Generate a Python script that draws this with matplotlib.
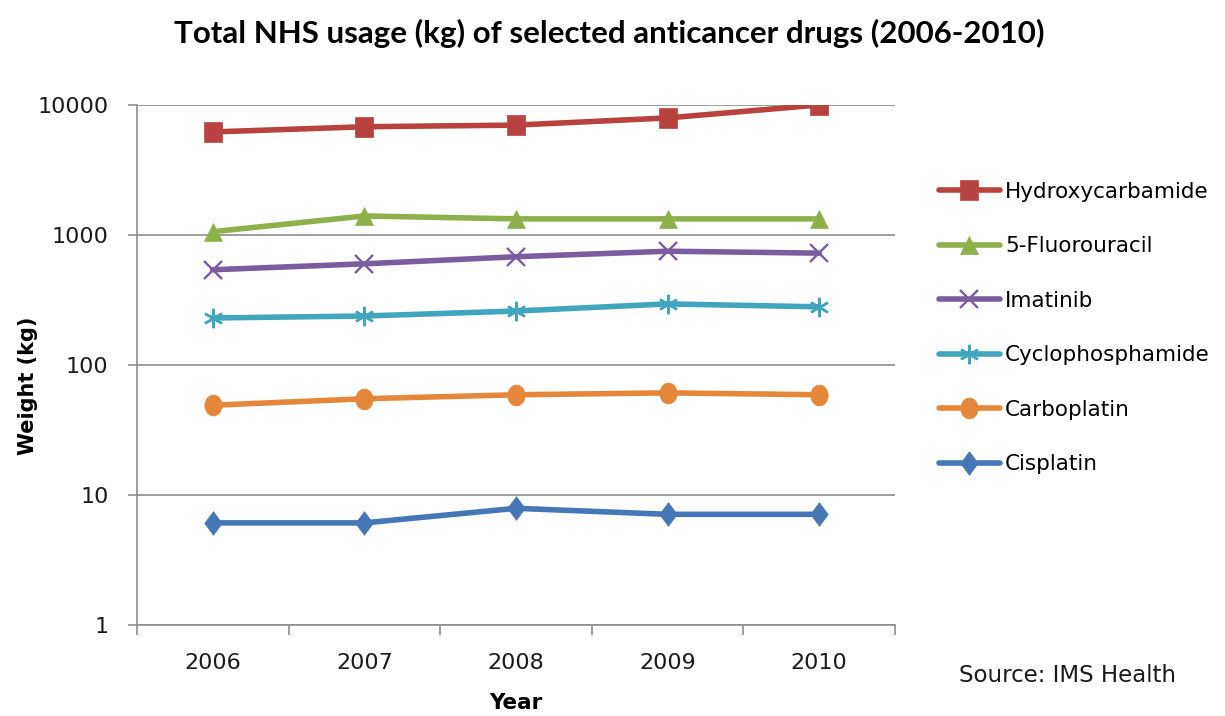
import matplotlib
matplotlib.use("Agg")
import matplotlib.pyplot as plt
from matplotlib.path import Path
from matplotlib.transforms import Affine2D
from matplotlib.ticker import FixedLocator, NullLocator

# values (kg, log scale)
years = ["2006", "2007", "2008", "2009", "2010"]
drugs = ["Hydroxycarbamide", "5-Fluorouracil", "Imatinib",
         "Cyclophosphamide", "Carboplatin", "Cisplatin"]
hydroxycarbamide = [6200, 6800, 7000, 7950, 10000]
fluorouracil = [1060, 1400, 1330, 1330, 1330]
imatinib = [540, 600, 680, 750, 725]
cyclophosphamide = [230, 238, 260, 295, 280]
carboplatin = [49, 55, 59, 61, 59]
cisplatin = [6.1, 6.1, 7.9, 7.1, 7.1]
yticks = [1, 10, 100, 1000, 10000]

series = [hydroxycarbamide, fluorouracil, imatinib,
          cyclophosphamide, carboplatin, cisplatin]
colors = ["#B8423F", "#8DB04B", "#7B5C9F", "#41A5BE", "#E5873A", "#4576B5"]

# the original picture is a bit stretched vertically, so are its markers
tall_square = Path([(-1, -1.2), (1, -1.2), (1, 1.2), (-1, 1.2), (-1, -1.2)], closed=True)
tall_circle = Path.unit_circle().transformed(Affine2D().scale(1, 1.2))
tall_diamond = Path([(0, -1.35), (1, 0), (0, 1.35), (-1, 0), (0, -1.35)], closed=True)
markers = [tall_square, "^", "x", (6, 2, 0), tall_circle, tall_diamond]
msizes = [15, 13, 13, 14, 15, 17]

plt.rcParams["font.family"] = ["DejaVu Sans"]

fig = plt.figure(figsize=(12.25, 7.16), dpi=100)
ax = fig.add_axes([0.1118, 0.1271, 0.6188, 0.7263])

x = list(range(len(years)))
for name, vals, c, m, ms in zip(drugs, series, colors, markers, msizes):
    thin = isinstance(m, (str, tuple)) and m in ("x", (6, 2, 0))
    ax.plot(x, vals, color=c, lw=4, marker=m, markersize=ms,
            markeredgecolor=c, markerfacecolor=c,
            markeredgewidth=1.7 if thin else 0.5,
            label=name, solid_capstyle="round")

ax.set_yscale("log")
ax.set_ylim(1, 10000)
ax.yaxis.set_major_locator(FixedLocator(yticks))
ax.yaxis.set_minor_locator(NullLocator())
ax.set_yticklabels([str(t) for t in yticks])
ax.set_xlim(-0.5, len(years) - 0.5)
ax.set_xticks(x)
ax.set_xticklabels(years)
ax.xaxis.set_minor_locator(FixedLocator([i - 0.5 for i in range(len(years) + 1)]))
ax.tick_params(axis="x", which="major", length=0, pad=20, labelsize=16, labelcolor="#1a1a1a")
ax.tick_params(axis="x", which="minor", length=7, color="#8c8c8c", width=1.2)
ax.tick_params(axis="y", length=6.5, color="#8c8c8c", width=1.2, labelsize=16,
               labelcolor="#1a1a1a", pad=14)

ax.grid(axis="y", color="#8c8c8c", lw=1.2)
ax.set_axisbelow(True)
for s in ["top", "right"]:
    ax.spines[s].set_visible(False)
for s in ["left", "bottom"]:
    ax.spines[s].set_color("#8c8c8c")
    ax.spines[s].set_linewidth(1.2)

ax.set_xlabel("Year", fontsize=15.5, fontweight="bold", va="center")
ax.xaxis.set_label_coords(0.5, -0.15)
ax.set_ylabel("Weight (kg)", fontsize=15, fontweight="bold", va="center")
ax.yaxis.set_label_coords(-0.144, 0.46)

fig.text(0.497, 0.953, "Total NHS usage (kg) of selected anticancer drugs (2006-2010)",
         ha="center", va="center", fontsize=22.5, fontweight="bold",
         family=["Lato", "DejaVu Sans"])

fig.legend(loc="upper left", bbox_to_anchor=(0.751, 0.773), frameon=False,
           fontsize=15.5, handlelength=2.8, handletextpad=0.25, labelspacing=1.6)

fig.text(0.783, 0.0559, "Source: IMS Health", fontsize=16.5, va="center",
         color="#1a1a1a")

fig.savefig("out.png", dpi=100)
